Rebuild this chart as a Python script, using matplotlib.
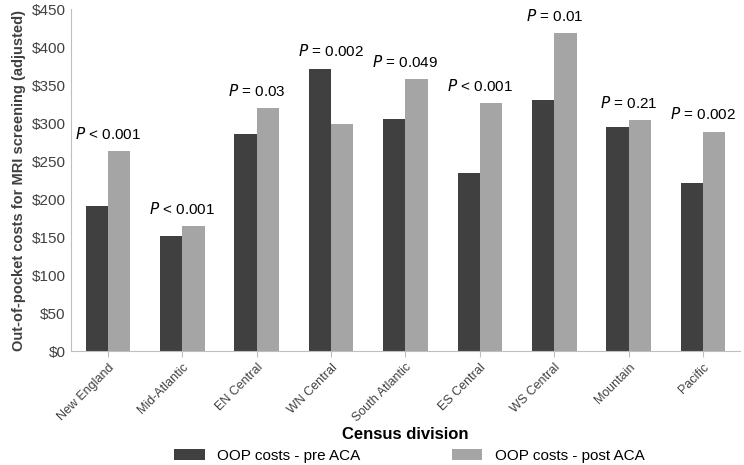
import numpy as np
import matplotlib.pyplot as plt

plt.rcParams["font.family"] = "Liberation Sans"

divisions = ["New England", "Mid-Atlantic", "EN Central", "WN Central", "South Atlantic",
             "ES Central", "WS Central", "Mountain", "Pacific"]
pre_aca = [191, 151, 286, 372, 305, 234, 331, 295, 221]
post_aca = [263, 165, 320, 299, 358, 327, 419, 304, 289]
p_labels = ["< 0.001", "< 0.001", "= 0.03", "= 0.002", "= 0.049", "< 0.001", "= 0.01", "= 0.21", "= 0.002"]

fig = plt.figure(figsize=(7.44, 4.65), dpi=100)
ax = fig.add_axes([0.095, 0.245, 0.9, 0.735])

x = np.arange(len(divisions))
w = 0.3
ax.bar(x - w/2, pre_aca, w, color='#404040', label='OOP costs - pre ACA')
ax.bar(x + w/2, post_aca, w, color='#a5a5a5', label='OOP costs - post ACA')

for i, lab in enumerate(p_labels):
    top = max(pre_aca[i], post_aca[i])
    ax.text(x[i], top + 12, r"$\it{P}$ " + lab, ha='center', va='bottom', fontsize=11, clip_on=False)

ax.set_ylim(0, 450)
ax.set_yticks(range(0, 451, 50))
ax.set_yticklabels(["$%d" % v for v in range(0, 451, 50)], fontsize=11, color='#404040')
ax.set_xlim(-0.5, len(divisions) - 0.5)
ax.set_xticks(x)
ax.set_xticklabels(divisions, rotation=45, ha='right', rotation_mode='anchor', fontsize=9, color='#404040')
ax.tick_params(length=0)
ax.tick_params(axis='x', length=4, color='#bfbfbf')
for s in ['top', 'right']:
    ax.spines[s].set_visible(False)
ax.spines['left'].set_color('#bfbfbf')
ax.spines['bottom'].set_color('#bfbfbf')

ax.set_ylabel("Out-of-pocket costs for MRI screening (adjusted)", fontsize=10.5, fontweight='bold', color='#404040')
ax.set_xlabel("Census division", fontsize=12, fontweight='bold', labelpad=2)
fig.legend(loc='lower center', ncol=2, frameon=False, fontsize=11, bbox_to_anchor=(0.55, -0.025), columnspacing=6)

fig.savefig("out.png", dpi=100)
